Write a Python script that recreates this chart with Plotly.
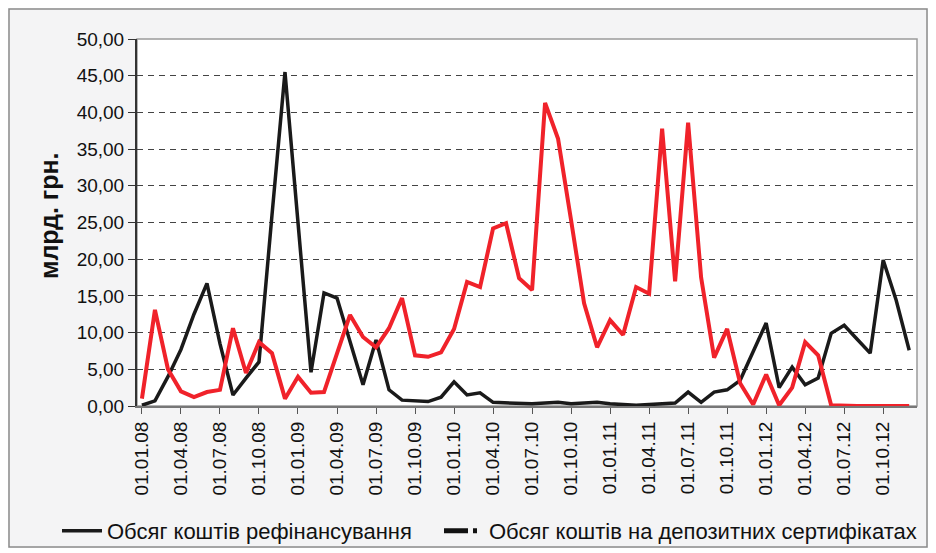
import plotly.graph_objects as go

# Monthly categories 01.01.08 .. 01.12.12
months = [f"01.{m:02d}.{y:02d}" for y in range(8, 13) for m in range(1, 13)]

refinancing = [0.1, 0.7, 4.0, 7.7, 12.5, 16.7, 8.5, 1.5, 3.8, 6.0,
               26.0, 45.5, 25.0, 4.6, 15.4, 14.7, 8.8, 2.9, 9.0, 2.2,
               0.8, 0.7, 0.6, 1.2, 3.3, 1.5, 1.8, 0.5, 0.4, 0.3,
               0.3, 0.4, 0.5, 0.3, 0.4, 0.5, 0.3, 0.2, 0.1, 0.2,
               0.3, 0.4, 1.9, 0.5, 1.9, 2.2, 3.5, 7.5, 11.3, 2.5,
               5.3, 2.9, 3.8, 9.9, 11.0, 9.1, 7.2, 19.9, 14.4, 7.6]

deposits = [1.0, 13.1, 5.0, 2.0, 1.2, 1.9, 2.2, 10.6, 4.5, 8.7,
            7.2, 1.0, 4.0, 1.8, 1.9, 7.0, 12.4, 9.4, 8.0, 10.6,
            14.7, 6.9, 6.7, 7.3, 10.5, 16.9, 16.2, 24.2, 24.9, 17.4,
            15.8, 41.3, 36.4, 25.3, 14.0, 8.0, 11.7, 9.7, 16.2, 15.3,
            37.8, 17.0, 38.6, 17.5, 6.6, 10.5, 3.1, 0.2, 4.3, 0.1,
            2.5, 8.7, 6.9, 0.1, 0.0, 0.0, 0.0, 0.0, 0.0, 0.0]

tick_labels = months[::3]

name_ref = "Обсяг коштів рефінансування"
name_dep = "Обсяг коштів на депозитних сертифікатах"
y_title = "млрд. грн."

FONT = "Liberation Sans, Arial, sans-serif"

fig = go.Figure()
fig.add_trace(go.Scatter(x=months, y=refinancing, mode="lines", name=name_ref,
                         legend="legend",
                         line=dict(color="#1a1a1a", width=3.5)))
fig.add_trace(go.Scatter(x=months, y=deposits, mode="lines", name=name_dep,
                         showlegend=False,
                         line=dict(color="#f0222a", width=4)))
# legend sample for the deposit series (black dash + dot as in original legend)
fig.add_trace(go.Scatter(x=[None], y=[None], mode="lines", name=name_dep,
                         legend="legend2",
                         line=dict(color="#111111", width=5, dash="24px,5px,4px,40px")))

# page offset of 8px (body margin) -> paper is the outer frame
OFF = 8
W, H = 920, 540
L, R, T, B = 137 - OFF, W + OFF - 917, 39 - OFF, H + OFF - 406
pw, ph = W - L - R, H - T - B

def px_x(p):
    return (p - OFF - L) / pw

def px_y(p):
    return (H - B - (p - OFF)) / ph

leg_common = dict(orientation="h", xanchor="left", yanchor="middle",
                  font=dict(size=22, family=FONT, color="#111111"),
                  bgcolor="rgba(0,0,0,0)", itemwidth=40)

fig.update_layout(
    width=W, height=H,
    margin=dict(l=L, r=R, t=T, b=B, autoexpand=False),
    paper_bgcolor="#f4f4f5",
    plot_bgcolor="white",
    separators=", ",
    font=dict(family=FONT, size=19, color="#111111"),
    showlegend=True,
    legend=dict(x=px_x(57), y=px_y(531), **leg_common),
    legend2=dict(x=px_x(439), y=px_y(531), **leg_common),
    shapes=[
        dict(type="rect", xref="paper", yref="paper",
             x0=px_x(9), x1=px_x(927), y0=px_y(547), y1=px_y(9),
             line=dict(color="#8a8a8a", width=1.5), layer="below"),
        dict(type="rect", xref="paper", yref="paper",
             x0=0, x1=1, y0=0, y1=1,
             line=dict(color="#9a9a9a", width=1.5), layer="below"),
    ],
    annotations=[
        dict(text=f"<b>{y_title}</b>", xref="paper", yref="paper",
             x=px_x(49), y=px_y(216), xanchor="center", yanchor="middle",
             textangle=-90, showarrow=False,
             font=dict(size=25, family=FONT, color="#111111")),
    ],
)

fig.update_xaxes(type="category", range=[-0.38, 59.6], automargin=False,
                 tickmode="array", tickvals=tick_labels, ticktext=tick_labels,
                 tickangle=-90, ticks="outside", ticklen=6, tickcolor="#555555",
                 showline=True, linecolor="#777777", linewidth=2,
                 showgrid=False, zeroline=False,
                 tickfont=dict(size=19, family=FONT, color="#111111"))

fig.update_yaxes(range=[0, 50], dtick=5, tickformat=".2f", automargin=False,
                 ticks="outside", ticklen=7, tickcolor="#333333",
                 showline=True, linecolor="#333333", linewidth=2,
                 showgrid=True, gridcolor="#444444", gridwidth=1, griddash="6px,5px",
                 zeroline=False,
                 tickfont=dict(size=19, family=FONT, color="#111111"))

fig.write_html("out.html")
